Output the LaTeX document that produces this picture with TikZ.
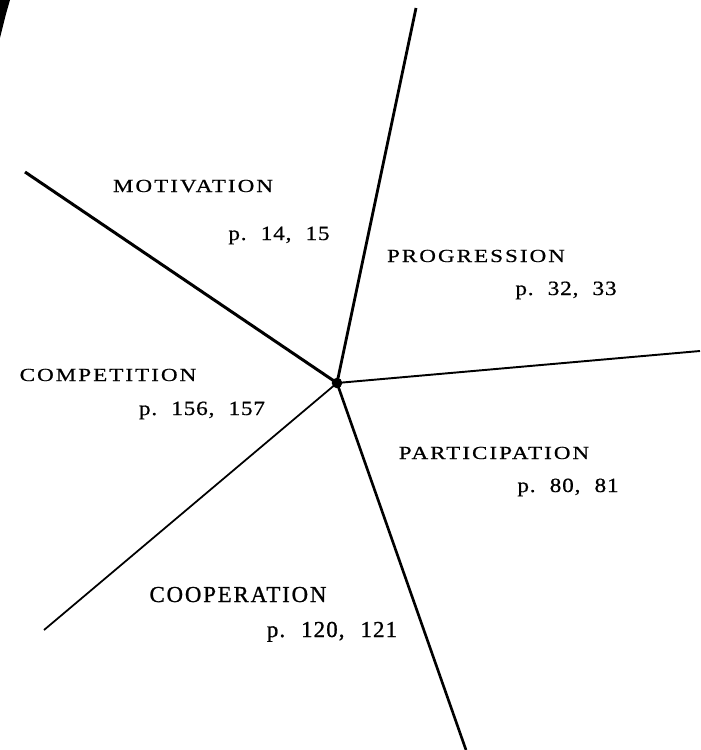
\documentclass[tikz,border=0pt]{standalone}
\usepackage{fontspec}
\setmainfont{Liberation Serif}

\begin{document}
\begin{tikzpicture}[x=0.02cm, y=-0.02cm, thick]
  \useasboundingbox (0,0) rectangle (700,750);
  \tikzset{
    topic/.style={anchor=base, inner sep=0pt,
      font=\fontsize{10.5}{12}\selectfont\addfontfeatures{FakeStretch=1.25, LetterSpace=11, FakeBold=0.6}},
    pages/.style={anchor=base, inner sep=0pt,
      font=\fontsize{11.5}{13}\selectfont\addfontfeatures{FakeStretch=1.15, LetterSpace=4, FakeBold=0.6}}
  }
  \newcommand{\gap}{\hspace{0.7em}}
  \coordinate (T) at (416,8);
  \coordinate (R) at (700,351);
  \coordinate (B) at (466,750);
  \coordinate (L) at (44,630);
  \coordinate (U) at (25,172);

  % centre point
  \node[circle, fill, inner sep=0pt, minimum size=6pt] (O) at (337,383) {};

  \draw[line width=1.6pt] (O.center)--(T);
  \draw[line width=1.1pt] (O.center)--(R);
  \draw[line width=1.5pt] (O.center)--(B);
  \draw[line width=1pt] (O.center)--(L);
  \draw[line width=1.7pt] (O.center)--(U);

  % scan mark in the corner
  \fill (0,0)--(10,0)--(6,14)--(0,38)--cycle;

  \node[topic] (mot) at (193,192) {MOTIVATION};
  \node[pages] (motp) at (279,240) {p.\gap 14,\gap 15};
  \node[topic] (pro) at (476,262) {PROGRESSION};
  \node[pages] (prop) at (566,295) {p.\gap 32,\gap 33};
  \node[topic] (com) at (108,381) {COMPETITION};
  \node[pages] (comp) at (202,415) {p.\gap 156,\gap 157};
  \node[topic] (par) at (494,459) {PARTICIPATION};
  \node[pages] (parp) at (568,492) {p.\gap 80,\gap 81};
  \node[topic, font=\fontsize{13}{15}\selectfont\addfontfeatures{LetterSpace=8, FakeBold=1}] (coo) at (238,602) {COOPERATION};
  \node[pages, font=\fontsize{13}{15}\selectfont\addfontfeatures{LetterSpace=5, FakeBold=1}] (coop) at (332,637) {p.\gap 120,\gap 121};
\end{tikzpicture}
\end{document}
